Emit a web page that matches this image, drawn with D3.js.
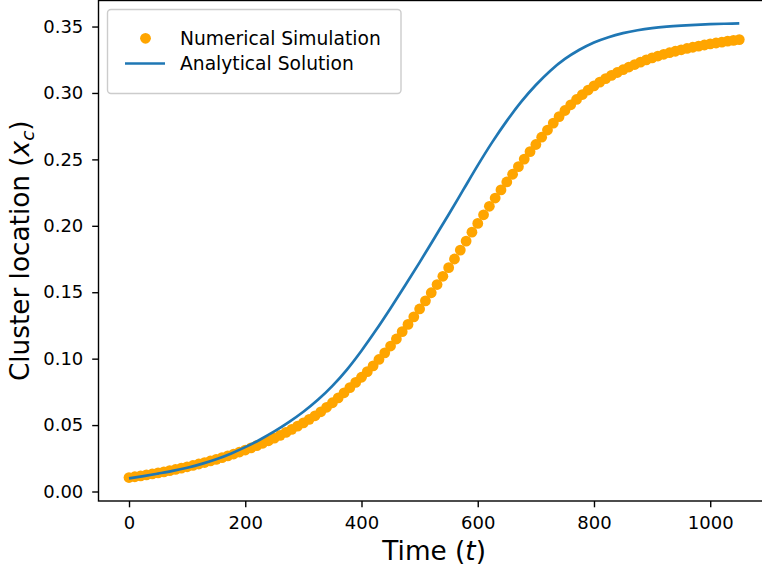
<!DOCTYPE html>
<html>
<head>
<meta charset="utf-8">
<script src="https://cdn.jsdelivr.net/npm/d3@7"></script>
<style>
  html, body { margin: 0; padding: 0; background: #fff; }
  svg { display: block; font-family: "DejaVu Sans", sans-serif; }
</style>
</head>
<body>
<svg id="chart" width="762" height="569"></svg>
<script>
// ---- data ----
const simTimes = d3.range(0, 1051, 10);
const simValues = [
  0.0105, 0.0111, 0.0118, 0.0125, 0.0132, 0.0140, 0.0148, 0.0157, 0.0166, 0.0176,
  0.0186, 0.0196, 0.0207, 0.0218, 0.0230, 0.0242, 0.0255, 0.0268, 0.0282, 0.0297,
  0.0312, 0.0328, 0.0345, 0.0363, 0.0382, 0.0402, 0.0423, 0.0445, 0.0468, 0.0492,
  0.0517, 0.0543, 0.0570, 0.0600, 0.0634, 0.0668, 0.0705, 0.0743, 0.0782, 0.0821,
  0.0860, 0.0902, 0.0946, 0.0994, 0.1044, 0.1095, 0.1148, 0.1203, 0.1258, 0.1315,
  0.1374, 0.1435, 0.1496, 0.1558, 0.1620, 0.1685, 0.1750, 0.1817, 0.1885, 0.1952,
  0.2018, 0.2083, 0.2147, 0.2209, 0.2270, 0.2330, 0.2388, 0.2445, 0.2502, 0.2558,
  0.2612, 0.2667, 0.2721, 0.2773, 0.2822, 0.2868, 0.2911, 0.2951, 0.2988, 0.3022,
  0.3053, 0.3082, 0.3108, 0.3132, 0.3154, 0.3175, 0.3195, 0.3214, 0.3232, 0.3249,
  0.3264, 0.3278, 0.3291, 0.3303, 0.3314, 0.3325, 0.3335, 0.3344, 0.3353, 0.3361,
  0.3369, 0.3376, 0.3383, 0.3390, 0.3396, 0.3402
];
const anaTimes = d3.range(0, 1051, 25);
const anaValues = [
  0.0099, 0.0116, 0.0135, 0.0155, 0.0179, 0.0208, 0.0243, 0.0285, 0.0334, 0.0390,
  0.0452, 0.0522, 0.0600, 0.0690, 0.0795, 0.0918, 0.1060, 0.1215, 0.1380, 0.1550,
  0.1725, 0.1905, 0.2085, 0.2270, 0.2455, 0.2630, 0.2790, 0.2935, 0.3060, 0.3168,
  0.3256, 0.3325, 0.3380, 0.3420, 0.3450, 0.3472, 0.3488, 0.3499, 0.3507, 0.3513,
  0.3518, 0.3521, 0.3524
];
const xTicks = [0, 200, 400, 600, 800, 1000];
const yTicks = [0.00, 0.05, 0.10, 0.15, 0.20, 0.25, 0.30, 0.35];
const seriesNames = ["Numerical Simulation", "Analytical Solution"];

const simData = simTimes.map((t, i) => ({ t: t, v: simValues[i] }));
const anaData = anaTimes.map((t, i) => ({ t: t, v: anaValues[i] }));

// ---- layout ----
const L = 98.5, R = 769.8, T = 0.5, B = 501;
const svg = d3.select("#chart");

const x = d3.scaleLinear().domain([-52.5, 1102.5]).range([L, R]);
const y = d3.scaleLinear().domain([-0.00715, 0.3696]).range([B, T]);

// ---- marks ----
svg.append("g")
  .selectAll("circle")
  .data(simData)
  .join("circle")
  .attr("cx", d => x(d.t))
  .attr("cy", d => y(d.v))
  .attr("r", 5.4)
  .attr("fill", "#FFA500");

svg.append("path")
  .datum(anaData)
  .attr("fill", "none")
  .attr("stroke", "#1f77b4")
  .attr("stroke-width", 2.7)
  .attr("d", d3.line().x(d => x(d.t)).y(d => y(d.v)).curve(d3.curveMonotoneX));

// ---- axes ----
const fmtY = d3.format(".2f");
const xAxis = svg.append("g")
  .attr("transform", `translate(0,${B})`)
  .call(d3.axisBottom(x).tickValues(xTicks).tickSize(6.3).tickPadding(9.4).tickFormat(d3.format("d")));
const yAxis = svg.append("g")
  .attr("transform", `translate(${L},0)`)
  .call(d3.axisLeft(y).tickValues(yTicks).tickSize(6.3).tickPadding(8.9).tickFormat(fmtY));

[xAxis, yAxis].forEach(g => {
  g.select(".domain").remove();
  g.selectAll(".tick line").attr("stroke", "#000").attr("stroke-width", 1.4);
  g.selectAll(".tick text").attr("fill", "#000").style("font-size", "18px").style("font-family", "DejaVu Sans");
});

// spines
svg.append("rect")
  .attr("x", L).attr("y", T)
  .attr("width", R - L).attr("height", B - T)
  .attr("fill", "none").attr("stroke", "#000").attr("stroke-width", 1.4);

// axis labels
const xl = svg.append("text")
  .attr("x", (L + R) / 2).attr("y", 560)
  .attr("text-anchor", "middle")
  .style("font-size", "26.3px").attr("fill", "#000");
xl.append("tspan").text("Time (");
xl.append("tspan").style("font-style", "italic").text("t");
xl.append("tspan").text(")");

const yl = svg.append("text")
  .attr("transform", `translate(29,${(T + B) / 2}) rotate(-90)`)
  .attr("text-anchor", "middle")
  .style("font-size", "26.3px").attr("fill", "#000");
yl.append("tspan").text("Cluster location (");
yl.append("tspan").style("font-style", "italic").text("x");
yl.append("tspan").style("font-style", "italic").style("font-size", "18.5px").attr("dy", 4.5).text("c");
yl.append("tspan").attr("dy", -4.5).text(")");

// legend
const lg = svg.append("g");
lg.append("rect")
  .attr("x", 107.5).attr("y", 9.5).attr("width", 293.5).attr("height", 84)
  .attr("rx", 3.5).attr("fill", "#fff").attr("fill-opacity", 0.8)
  .attr("stroke", "#cccccc").attr("stroke-width", 1.4);
lg.append("circle").attr("cx", 145.5).attr("cy", 38.3).attr("r", 5.4).attr("fill", "#FFA500");
lg.append("line").attr("x1", 125).attr("x2", 165).attr("y1", 63.5).attr("y2", 63.5)
  .attr("stroke", "#1f77b4").attr("stroke-width", 2.7);
lg.selectAll("text.leg")
  .data(seriesNames)
  .join("text")
  .attr("class", "leg")
  .attr("x", 180)
  .attr("y", (d, i) => 45 + i * 25.3)
  .style("font-size", "18.7px").attr("fill", "#000")
  .text(d => d);
</script>
</body>
</html>
